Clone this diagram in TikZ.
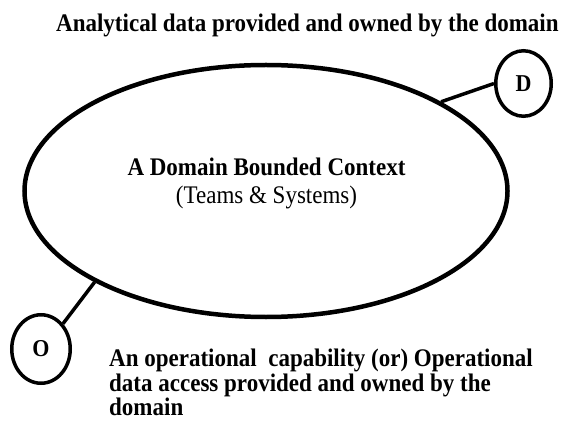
\documentclass[tikz,border=0pt]{standalone}
\usepackage{fontspec}
\setmainfont{Liberation Serif}
\usetikzlibrary{shapes.geometric}
% slightly tall lettering
\newcommand\stretchtxt[1]{\scalebox{1}[1.1]{#1}}
\begin{document}
\begin{tikzpicture}[x=1pt,y=-1pt,
  ring/.style={ellipse, draw, line width=3.5pt, inner sep=0pt,
               font=\fontsize{22}{24}\selectfont\bfseries},
  link/.style={line width=3.5pt},
  caption/.style={inner sep=0pt, font=\fontsize{23}{22.4}\selectfont\bfseries},
  inside/.style={inner sep=0pt, font=\fontsize{23}{25.5}\selectfont},
]
\useasboundingbox (0,0) rectangle (570,422);

% bounded context
\node[ring, line width=4.5pt, minimum width=483pt, minimum height=252pt] (ctx) at (266,191) {};
\node[inside, anchor=base] (ctxlabel) at (266.5,175.5)
  {\stretchtxt{\vtop{\hbox to 320pt{\hfil\textbf{A Domain Bounded Context}\hfil}
                     \hbox to 320pt{\hfil(Teams \& Systems)\hfil}}}};

% data product and operational ports
\node[ring, minimum width=55.5pt, minimum height=65.5pt] (D) at (523.5,83.5) {\stretchtxt{D}};
\node[ring, minimum width=58.5pt, minimum height=68.5pt] (O) at (41,349) {\stretchtxt{O}};

\draw[link] (ctx.27.3) -- (D.180);
\draw[link] (ctx.208.4) -- (O.49);

% captions
\node[caption, anchor=base west] (title) at (56,31.7)
  {\stretchtxt{Analytical data provided and owned by the domain}};
\node[caption, anchor=base west] (ops) at (109,366.7)
  {\stretchtxt{\vtop{\lineskiplimit=-10pt
     \hbox{An operational\ \ capability (or) Operational}
     \hbox{data access provided and owned by the}
     \hbox{domain}}}};
\end{tikzpicture}
\end{document}
